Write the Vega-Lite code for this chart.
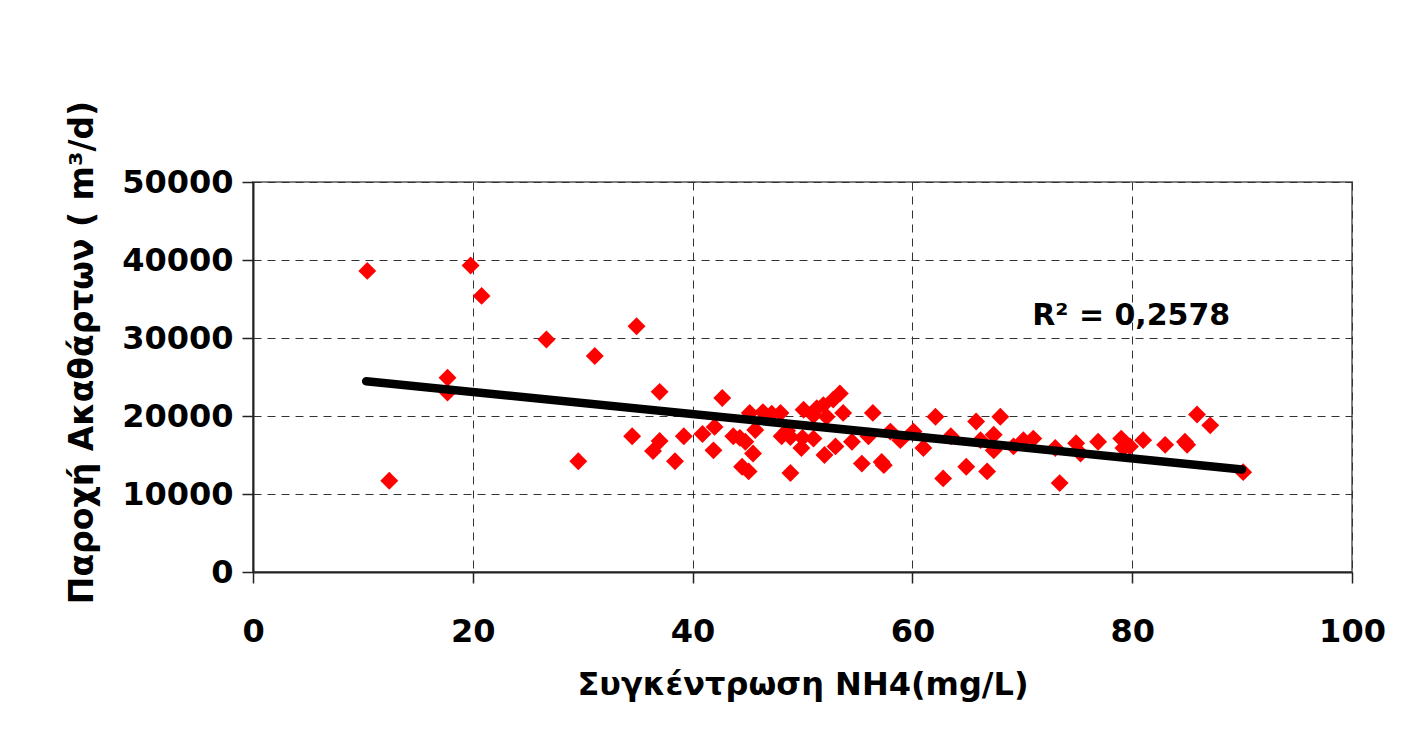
{
  "$schema": "https://vega.github.io/schema/vega-lite/v6.json",
  "width": 1099,
  "height": 390,
  "autosize": {"type": "none"},
  "padding": {"left": 253, "top": 182, "right": 56, "bottom": 172},
  "background": "white",
  "config": {
    "view": {"stroke": "#808080", "strokeWidth": 2},
    "font": "DejaVu Sans",
    "axis": {
      "grid": true,
      "gridDash": [8, 6],
      "gridColor": "#333333",
      "gridWidth": 1,
      "domainColor": "#222222",
      "domainWidth": 2,
      "tickColor": "#222222",
      "tickWidth": 1.5,
      "tickSize": 11,
      "labelFlush": false,
      "labelFont": "DejaVu Sans",
      "labelFontWeight": "bold",
      "labelFontSize": 32,
      "labelColor": "#000000",
      "titleFont": "DejaVu Sans",
      "titleFontWeight": "bold",
      "titleFontSize": 32,
      "titleColor": "#000000"
    }
  },
  "datasets": {
    "points": [
      {"x": 10.4, "y": 38600}, {"x": 12.4, "y": 11700}, {"x": 17.7, "y": 24900}, {"x": 17.7, "y": 23000},
      {"x": 19.8, "y": 39300}, {"x": 20.8, "y": 35400}, {"x": 26.7, "y": 29800}, {"x": 29.6, "y": 14200},
      {"x": 31.1, "y": 27700}, {"x": 34.9, "y": 31500}, {"x": 34.5, "y": 17400}, {"x": 37.0, "y": 23100},
      {"x": 37.0, "y": 16800}, {"x": 36.4, "y": 15500}, {"x": 38.4, "y": 14200}, {"x": 39.2, "y": 17400},
      {"x": 40.9, "y": 17700}, {"x": 42.7, "y": 22300}, {"x": 42.0, "y": 18600}, {"x": 41.9, "y": 15600},
      {"x": 43.7, "y": 17400}, {"x": 44.3, "y": 17200}, {"x": 44.8, "y": 16700}, {"x": 44.5, "y": 13500},
      {"x": 45.1, "y": 12900}, {"x": 45.5, "y": 15200}, {"x": 45.2, "y": 20400}, {"x": 45.7, "y": 18200},
      {"x": 46.4, "y": 20500}, {"x": 47.2, "y": 20300}, {"x": 48.0, "y": 20400}, {"x": 48.1, "y": 17400},
      {"x": 48.6, "y": 18100}, {"x": 48.9, "y": 12700}, {"x": 48.9, "y": 17300}, {"x": 49.9, "y": 15900},
      {"x": 50.0, "y": 17200}, {"x": 50.1, "y": 20800}, {"x": 51.0, "y": 20100}, {"x": 51.3, "y": 21000},
      {"x": 51.9, "y": 21400}, {"x": 52.8, "y": 22100}, {"x": 53.4, "y": 22900}, {"x": 53.7, "y": 20400},
      {"x": 52.2, "y": 19900}, {"x": 51.0, "y": 17100}, {"x": 52.0, "y": 15000}, {"x": 53.0, "y": 16100},
      {"x": 54.5, "y": 16700}, {"x": 55.4, "y": 13900}, {"x": 56.4, "y": 20400}, {"x": 56.0, "y": 17400},
      {"x": 57.4, "y": 13700}, {"x": 57.2, "y": 14100}, {"x": 58.0, "y": 18000}, {"x": 58.9, "y": 16900},
      {"x": 60.1, "y": 18000}, {"x": 61.0, "y": 15900}, {"x": 62.1, "y": 19900}, {"x": 62.8, "y": 12000},
      {"x": 63.5, "y": 17400}, {"x": 64.9, "y": 13500}, {"x": 65.8, "y": 19300}, {"x": 66.2, "y": 16900},
      {"x": 66.8, "y": 12900}, {"x": 67.4, "y": 17600}, {"x": 67.4, "y": 15600}, {"x": 68.0, "y": 19900},
      {"x": 69.2, "y": 16100}, {"x": 70.1, "y": 16900}, {"x": 71.0, "y": 17100}, {"x": 73.0, "y": 15900},
      {"x": 73.4, "y": 11400}, {"x": 74.9, "y": 16500}, {"x": 75.3, "y": 15200}, {"x": 76.9, "y": 16700},
      {"x": 79.0, "y": 17100}, {"x": 79.2, "y": 15900}, {"x": 79.8, "y": 16100}, {"x": 81.0, "y": 16900},
      {"x": 83.0, "y": 16300}, {"x": 84.8, "y": 16700}, {"x": 85.0, "y": 16300}, {"x": 85.9, "y": 20200},
      {"x": 87.1, "y": 18800}, {"x": 90.1, "y": 12800}
    ],
    "trend": [{"x": 10.3, "y": 24450}, {"x": 90.0, "y": 13150}],
    "note": [{"x": 70.9, "y": 31700, "label": "R² = 0,2578"}]
  },
  "layer": [
    {
      "data": {"name": "points"},
      "mark": {"type": "point", "shape": "diamond", "filled": true, "size": 320, "color": "#FF0000", "opacity": 1},
      "encoding": {
        "x": {
          "field": "x", "type": "quantitative",
          "scale": {"domain": [0, 100], "nice": false, "zero": true},
          "axis": {
            "values": [0, 20, 40, 60, 80, 100],
            "labelPadding": 33,
            "title": "Συγκέντρωση NH4(mg/L)",
            "titlePadding": 22
          }
        },
        "y": {
          "field": "y", "type": "quantitative",
          "scale": {"domain": [0, 50000], "nice": false},
          "axis": {
            "values": [0, 10000, 20000, 30000, 40000, 50000],
            "format": "d",
            "labelPadding": 9,
            "title": "Παροχή Ακαθάρτων ( m³/d)",
            "titleFontSize": 33,
            "titlePadding": 22,
            "titleY": 170
          }
        }
      }
    },
    {
      "data": {"name": "trend"},
      "mark": {"type": "line", "color": "#000000", "strokeWidth": 8.5, "strokeCap": "round"},
      "encoding": {
        "x": {"field": "x", "type": "quantitative"},
        "y": {"field": "y", "type": "quantitative"}
      }
    },
    {
      "data": {"name": "note"},
      "mark": {"type": "text", "font": "DejaVu Sans", "fontWeight": "bold", "fontSize": 30, "align": "left", "baseline": "alphabetic", "color": "#000000"},
      "encoding": {
        "x": {"field": "x", "type": "quantitative"},
        "y": {"field": "y", "type": "quantitative"},
        "text": {"field": "label"}
      }
    }
  ]
}
